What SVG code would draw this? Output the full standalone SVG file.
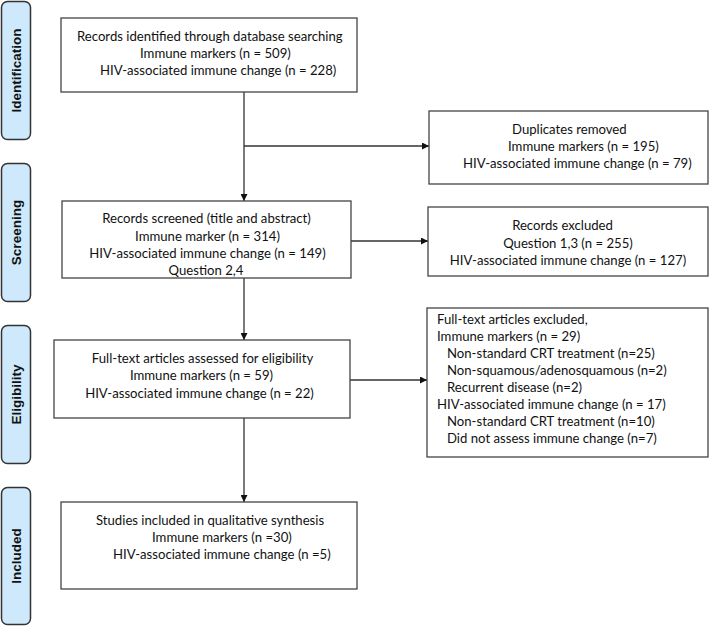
<svg xmlns="http://www.w3.org/2000/svg" width="709" height="626" viewBox="0 0 709 626">
<style>
.phase{fill:#cde9fb;stroke:#333;stroke-width:1.5}
.phase-t{font-family:"Liberation Sans",Arial,sans-serif;font-size:13.5px;font-weight:bold;fill:#111;text-anchor:middle}
.box{fill:#fff;stroke:#444;stroke-width:1.3}
.t{font-family:Lato,"Liberation Sans",sans-serif;font-size:13.15px;fill:#111}
.c{text-anchor:middle}
.ln{stroke:#333;stroke-width:1.3;fill:none}
</style>
<defs>
<marker id="ah" viewBox="0 0 10 10" refX="10" refY="5" markerWidth="7" markerHeight="7" markerUnits="userSpaceOnUse" orient="auto">
<path d="M0,0 L10,5 L0,10 z" fill="#111"/>
</marker>
</defs>
<rect width="709" height="626" fill="#fff"/>
<g id="phase-identification"><rect class="phase" x="1.5" y="1.5" width="29" height="138" rx="6"/><text class="phase-t" transform="translate(21,70.5) rotate(-90)">Identification</text></g>
<g id="phase-screening"><rect class="phase" x="1.5" y="163.5" width="29" height="138" rx="6"/><text class="phase-t" transform="translate(21,232.5) rotate(-90)">Screening</text></g>
<g id="phase-eligibility"><rect class="phase" x="1.5" y="325.5" width="29" height="138" rx="6"/><text class="phase-t" transform="translate(21,394.5) rotate(-90)">Eligibility</text></g>
<g id="phase-included"><rect class="phase" x="1.5" y="487.5" width="29" height="137" rx="6"/><text class="phase-t" transform="translate(21,556) rotate(-90)">Included</text></g>

<g id="connectors">
<line class="ln" x1="244" y1="92" x2="244" y2="201" marker-end="url(#ah)"/>
<line class="ln" x1="244" y1="146" x2="429" y2="146" marker-end="url(#ah)"/>
<line class="ln" x1="351" y1="241" x2="428" y2="241" marker-end="url(#ah)"/>
<line class="ln" x1="244" y1="278" x2="244" y2="340" marker-end="url(#ah)"/>
<line class="ln" x1="350" y1="380" x2="427" y2="380" marker-end="url(#ah)"/>
<line class="ln" x1="244" y1="418" x2="244" y2="502" marker-end="url(#ah)"/>
</g>

<g id="identified"><rect class="box" x="61" y="18" width="296" height="74"/>
<text class="t" x="77" y="41">Records identified through database searching</text>
<text class="t" x="140" y="58">Immune markers (n = 509)</text>
<text class="t" x="100" y="75">HIV-associated immune change (n = 228)</text></g>

<g id="duplicates"><rect class="box" x="429" y="111" width="279" height="73"/>
<text class="t" x="512" y="134">Duplicates removed</text>
<text class="t" x="508" y="151">Immune markers (n = 195)</text>
<text class="t" x="463" y="168">HIV-associated immune change (n = 79)</text></g>

<g id="screened"><rect class="box" x="62" y="201" width="289" height="77"/>
<text class="t c" x="206.5" y="223">Records screened (title and abstract)</text>
<text class="t c" x="207.5" y="241">Immune marker (n = 314)</text>
<text class="t c" x="207.5" y="258">HIV-associated immune change (n = 149)</text>
<text class="t c" x="206" y="275">Question 2,4</text></g>

<g id="excluded"><rect class="box" x="428" y="207" width="280" height="69"/>
<text class="t c" x="562.5" y="230">Records excluded</text>
<text class="t c" x="568" y="248">Question 1,3 (n = 255)</text>
<text class="t c" x="568" y="265">HIV-associated immune change (n = 127)</text></g>

<g id="assessed"><rect class="box" x="54" y="340" width="296" height="78"/>
<text class="t c" x="202.5" y="363">Full-text articles assessed for eligibility</text>
<text class="t c" x="201.5" y="380">Immune markers (n = 59)</text>
<text class="t c" x="199.5" y="398">HIV-associated immune change (n = 22)</text></g>

<g id="fulltext-excluded"><rect class="box" x="427" y="308" width="281" height="149"/>
<text class="t" x="437" y="324">Full-text articles excluded,</text>
<text class="t" x="437" y="341">Immune markers (n = 29)</text>
<text class="t" x="447" y="358">Non-standard CRT treatment (n=25)</text>
<text class="t" x="447" y="375">Non-squamous/adenosquamous (n=2)</text>
<text class="t" x="447" y="392">Recurrent disease (n=2)</text>
<text class="t" x="437" y="409">HIV-associated immune change (n = 17)</text>
<text class="t" x="447" y="426">Non-standard CRT treatment (n=10)</text>
<text class="t" x="447" y="443">Did not assess immune change (n=7)</text></g>

<g id="included"><rect class="box" x="61" y="502" width="296" height="87"/>
<text class="t" x="96" y="525">Studies included in qualitative synthesis</text>
<text class="t" x="152" y="542">Immune markers (n =30)</text>
<text class="t" x="113" y="559">HIV-associated immune change (n =5)</text></g>
</svg>
